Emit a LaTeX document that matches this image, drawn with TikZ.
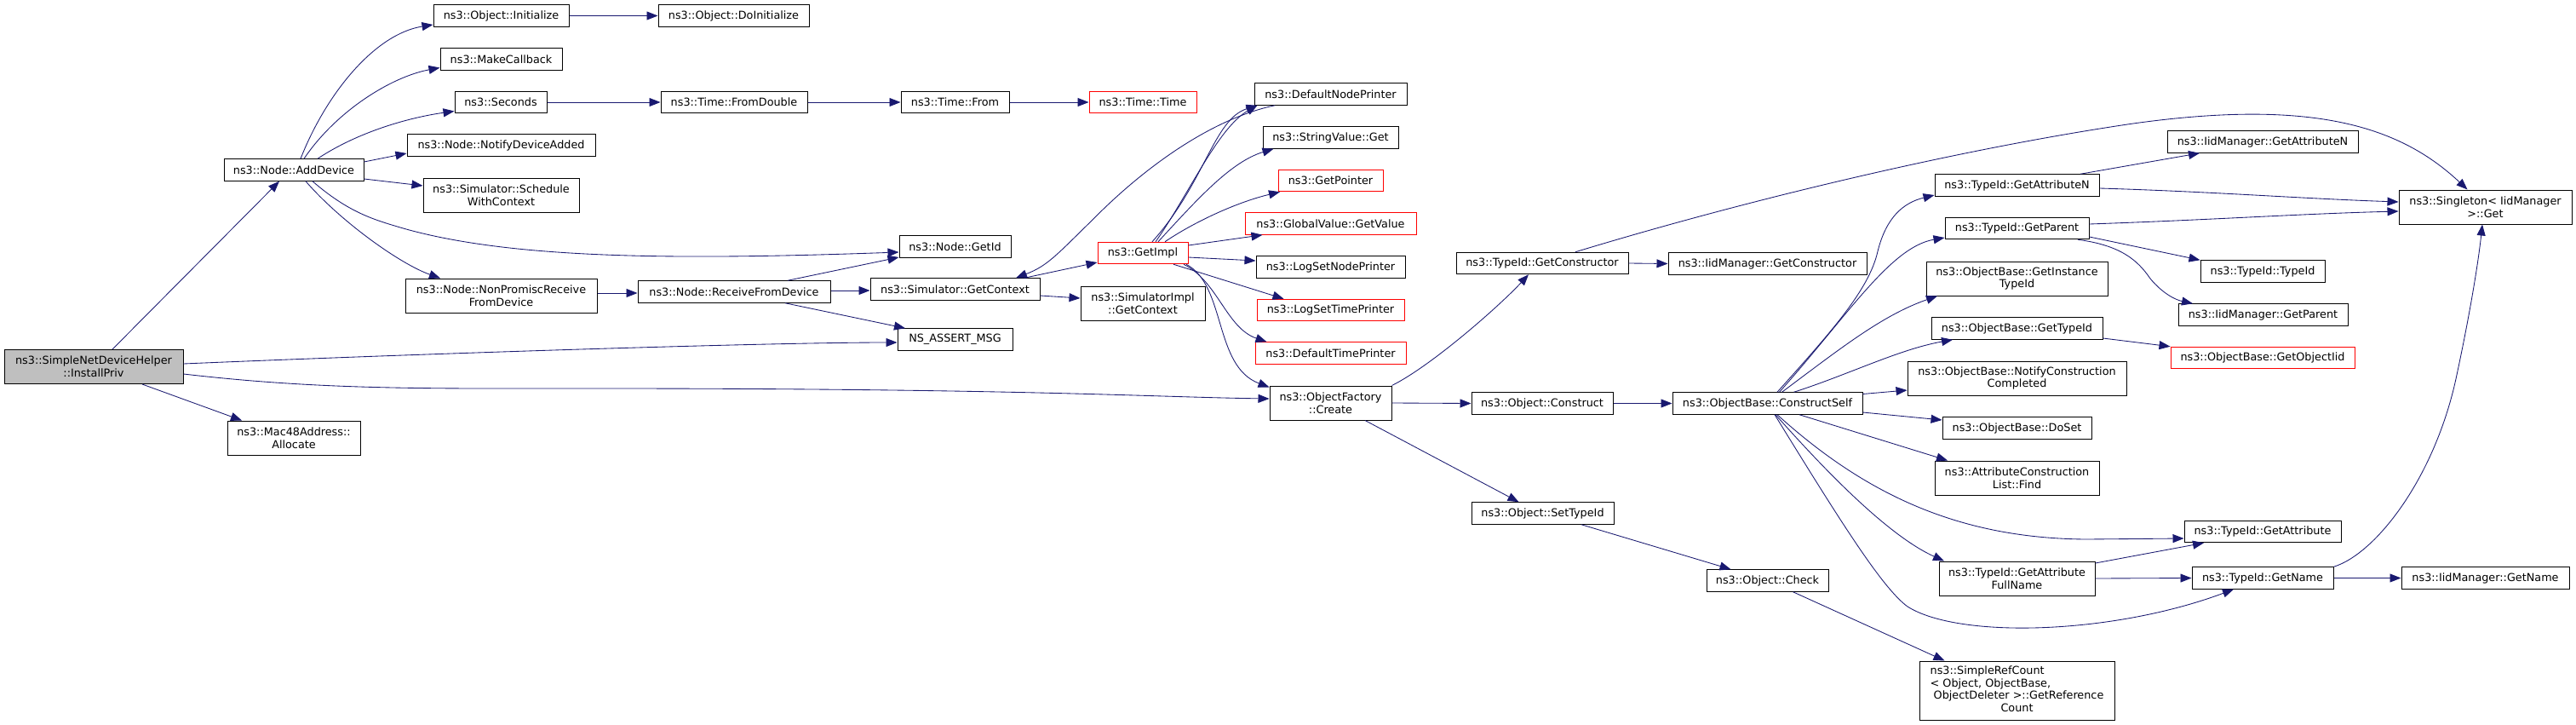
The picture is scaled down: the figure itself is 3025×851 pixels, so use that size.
\documentclass[tikz,border=0pt]{standalone}
\usepackage{fontspec}
\setmainfont{DejaVu Sans}
\usetikzlibrary{arrows.meta}
\definecolor{edgeblue}{HTML}{191970}
\definecolor{boxred}{HTML}{FF0000}
\definecolor{rootgray}{HTML}{BFBFBF}
\begin{document}
\begin{tikzpicture}[x=1pt,y=-1pt,
  fn/.style={draw=black, line width=1pt, fill=white, inner sep=0pt, minimum height=25.5pt, align=center, font=\fontsize{12.8pt}{14.7pt}\selectfont},
  fn2/.style={fn, minimum height=40pt},
  redfn/.style={fn, draw=boxred},
  call/.style={draw=edgeblue, line width=0.85pt, -{Triangle[length=13pt,width=10pt]}},
]
\useasboundingbox (0,0) rectangle (3025,851);

% nodes
\node[fn2, fill=rootgray, minimum width=210pt] (ip) at (110,430.5) {ns3::SimpleNetDeviceHelper\\::InstallPriv};
\node[fn2, minimum width=156pt] (mac) at (345,514) {ns3::Mac48Address::\\Allocate};
\node[fn, minimum width=164pt] (add) at (345,199.5) {ns3::Node::AddDevice};
\node[fn, minimum width=159pt] (init) at (588.5,18.5) {ns3::Object::Initialize};
\node[fn, minimum width=177pt] (doinit) at (861.5,18.5) {ns3::Object::DoInitialize};
\node[fn, minimum width=143pt] (mcb) at (588.5,69.5) {ns3::MakeCallback};
\node[fn, minimum width=108pt] (sec) at (588,120) {ns3::Seconds};
\node[fn, minimum width=172pt] (fd) at (862,120) {ns3::Time::FromDouble};
\node[fn, minimum width=221pt] (nda) at (588.5,170.5) {ns3::Node::NotifyDeviceAdded};
\node[fn2, minimum width=183pt] (swc) at (588.5,229) {ns3::Simulator::Schedule\\WithContext};
\node[fn2, minimum width=225pt] (npr) at (588.5,347) {ns3::Node::NonPromiscReceive\\FromDevice};
\node[fn, minimum width=226pt] (rfd) at (862,342.5) {ns3::Node::ReceiveFromDevice};
\node[fn, minimum width=127pt] (tfrom) at (1121.5,120) {ns3::Time::From};
\node[redfn, minimum width=126pt] (ttime) at (1342,120) {ns3::Time::Time};
\node[fn, minimum width=131pt] (gid) at (1121.5,289.5) {ns3::Node::GetId};
\node[fn, minimum width=199pt] (sgc) at (1121.5,339.5) {ns3::Simulator::GetContext};
\node[redfn, minimum width=106pt] (gimpl) at (1342,297) {ns3::GetImpl};
\node[fn2, minimum width=146pt] (sigc) at (1342,356) {ns3::SimulatorImpl\\::GetContext};
\node[fn, minimum width=135pt] (nsa) at (1121.5,398.5) {NS\_ASSERT\_MSG};
\node[fn, minimum width=179pt] (dnp) at (1562.5,110.5) {ns3::DefaultNodePrinter};
\node[fn, minimum width=159pt] (svg) at (1562.5,161.5) {ns3::StringValue::Get};
\node[redfn, minimum width=123pt] (gp) at (1562.5,212) {ns3::GetPointer};
\node[redfn, minimum width=201pt] (gvv) at (1562.5,262.5) {ns3::GlobalValue::GetValue};
\node[fn, minimum width=175pt] (lsnp) at (1562.5,313.5) {ns3::LogSetNodePrinter};
\node[redfn, minimum width=173pt] (lstp) at (1562.5,364) {ns3::LogSetTimePrinter};
\node[redfn, minimum width=177pt] (dtp) at (1562.5,414.5) {ns3::DefaultTimePrinter};
\node[fn2, minimum width=143pt] (ofc) at (1562.5,473) {ns3::ObjectFactory\\::Create};
\node[fn, minimum width=202pt] (tgc) at (1811,309) {ns3::TypeId::GetConstructor};
\node[fn, minimum width=166pt] (ocon) at (1811,473.5) {ns3::Object::Construct};
\node[fn, minimum width=167pt] (ost) at (1811.5,602.5) {ns3::Object::SetTypeId};
\node[fn, minimum width=233pt] (igc) at (2075.5,309.5) {ns3::IidManager::GetConstructor};
\node[fn, minimum width=223pt] (ocs) at (2075.5,473.5) {ns3::ObjectBase::ConstructSelf};
\node[fn, minimum width=143pt] (ochk) at (2075.5,681.5) {ns3::Object::Check};
\node[fn, minimum width=193pt] (tgan) at (2368.5,217.5) {ns3::TypeId::GetAttributeN};
\node[fn, minimum width=169pt] (tgp) at (2368.5,268) {ns3::TypeId::GetParent};
\node[fn2, minimum width=213pt] (ogit) at (2368.5,327) {ns3::ObjectBase::GetInstance\\TypeId};
\node[fn, minimum width=201pt] (ogt) at (2368.5,385.5) {ns3::ObjectBase::GetTypeId};
\node[fn2, minimum width=257pt] (oncc) at (2368.5,444) {ns3::ObjectBase::NotifyConstruction\\Completed};
\node[fn, minimum width=175pt] (ods) at (2368.5,502.5) {ns3::ObjectBase::DoSet};
\node[fn2, minimum width=193pt] (acf) at (2368.5,561) {ns3::AttributeConstruction\\List::Find};
\node[fn2, minimum width=183pt] (tgafn) at (2368.5,679) {ns3::TypeId::GetAttribute\\FullName};
\node[fn, minimum width=229pt, minimum height=69pt] (src) at (2368.5,810.5) {\begin{tabular}{@{}l@{}}ns3::SimpleRefCount\\< Object, ObjectBase,\\\ ObjectDeleter >::GetReference\\\multicolumn{1}{@{}c@{}}{Count}\end{tabular}};
\node[fn, minimum width=224pt] (igan) at (2657,166.5) {ns3::IidManager::GetAttributeN};
\node[fn2, minimum width=203pt] (sing) at (2918.5,243) {ns3::Singleton< IidManager\\>::Get};
\node[fn, minimum width=146pt] (tti) at (2657,318.5) {ns3::TypeId::TypeId};
\node[fn, minimum width=199pt] (igp) at (2657.5,369.5) {ns3::IidManager::GetParent};
\node[redfn, minimum width=216pt] (ogoi) at (2657,420) {ns3::ObjectBase::GetObjectIid};
\node[fn, minimum width=184pt] (tga) at (2657,624) {ns3::TypeId::GetAttribute};
\node[fn, minimum width=166pt] (tgn) at (2657,678.5) {ns3::TypeId::GetName};
\node[fn, minimum width=197pt] (ign) at (2918.5,678.5) {ns3::IidManager::GetName};

% edges
\draw[call] ([xshift=22pt]ip.north) -- ([xshift=-17pt]add.south);
\draw[call] ([yshift=3.5pt]ip.east) .. controls (500,415) and (900,402) .. ([yshift=-3.5pt]nsa.west);
\draw[call] ([yshift=-8.5pt]ip.east) .. controls (380,458) and (500,456) .. (700,456) .. controls (1200,456) and (1350,466) .. ([yshift=5pt]ofc.west);
\draw[call] ([xshift=57pt]ip.south) -- ([xshift=-61pt]mac.north);

\draw[call] ([xshift=8pt]add.north) .. controls (383,110) and (440,40) .. ([yshift=-10.5pt]init.west);
\draw[call] ([xshift=12pt]add.north) .. controls (395,130) and (460,90) .. ([yshift=-10pt]mcb.west);
\draw[call] ([xshift=28pt]add.north) .. controls (420,155) and (480,138) .. ([yshift=-10.5pt]sec.west);
\draw[call] ([yshift=9.5pt]add.east) -- ([yshift=-9.5pt]nda.west);
\draw[call] ([yshift=-10.5pt]add.east) -- ([yshift=11pt]swc.west);
\draw[call] ([xshift=22pt]add.south) .. controls (410,250) and (440,258) .. (470,267) .. controls (600,305) and (800,305) .. ([yshift=-6.5pt]gid.west);
\draw[call] ([xshift=14pt]add.south) .. controls (400,260) and (470,310) .. ([xshift=-71.5pt]npr.north);

\draw[call] (init.east) -- (doinit.west);
\draw[call] (sec.east) -- (fd.west);
\draw[call] (fd.east) -- (tfrom.west);
\draw[call] (tfrom.east) -- (ttime.west);

\draw[call] ([yshift=3pt]npr.east) -- ([yshift=-1.5pt]rfd.west);
\draw[call] ([xshift=63pt]rfd.north) -- ([yshift=-12.5pt]gid.west);
\draw[call] ([yshift=1.5pt]rfd.east) -- ([yshift=-1.5pt]sgc.west);
\draw[call] ([xshift=60pt]rfd.south) -- ([xshift=-58.5pt]nsa.north);

\draw[call] ([xshift=81.5pt]sgc.north) -- ([yshift=-11pt]gimpl.west);
\draw[call] ([yshift=-7.5pt]sgc.east) -- ([yshift=6pt]sigc.west);
\draw[call] ([xshift=-65.5pt]dnp.south) .. controls (1420,140) and (1340,200) .. (1283,258) .. controls (1240,300) and (1230,312) .. ([xshift=71.5pt]sgc.north);

\draw[call] ([xshift=11pt]gimpl.north) .. controls (1415,215) and (1425,140) .. ([xshift=4pt]dnp.south west);
\draw[call] ([xshift=15pt]gimpl.north) .. controls (1395,230) and (1430,150) .. ([xshift=4pt]dnp.south west);
\draw[call] ([xshift=18pt]gimpl.north) .. controls (1405,235) and (1445,190) .. ([xshift=-67pt]svg.south);
\draw[call] ([xshift=26pt]gimpl.north) .. controls (1400,262) and (1450,238) .. ([xshift=-59.5pt]gp.south);
\draw[call] ([yshift=9pt]gimpl.east) -- ([xshift=-80pt]gvv.south);
\draw[call] ([yshift=-5pt]gimpl.east) -- ([yshift=7.5pt]lsnp.west);
\draw[call] ([xshift=36pt]gimpl.south) -- ([xshift=-55pt]lstp.north);
\draw[call] ([xshift=48pt]gimpl.south) .. controls (1430,330) and (1440,385) .. ([xshift=-75pt]dtp.north);
\draw[call] ([xshift=51pt]gimpl.south) .. controls (1440,335) and (1425,430) .. ([yshift=-2pt]ofc.north west);

\draw[call] (ofc.north east) .. controls (1680,430) and (1760,360) .. ([xshift=-16pt]tgc.south);
\draw[call] (ofc.east) -- (ocon.west);
\draw[call] ([xshift=40.5pt]ofc.south) -- ([xshift=-28pt]ost.north);
\draw[call] (ocon.east) -- (ocs.west);
\draw[call] ([xshift=45.5pt]ost.south) -- ([xshift=-43pt]ochk.north);
\draw[call] ([xshift=30pt]ochk.south) -- ([xshift=-85pt]src.north);
\draw[call] (tgc.east) -- (igc.west);
\draw[call] ([xshift=39pt]tgc.north) .. controls (2050,235) and (2300,175) .. (2505,145) .. controls (2720,115) and (2820,150) .. ([xshift=-21pt]sing.north);

\draw[call] ([xshift=11.5pt]ocs.north) .. controls (2150,390) and (2195,340) .. (2205,295) .. controls (2215,255) and (2235,238) .. ([yshift=-11.5pt]tgan.west);
\draw[call] ([xshift=14pt]ocs.north) .. controls (2170,370) and (2220,290) .. ([yshift=-11pt]tgp.west);
\draw[call] ([xshift=17pt]ocs.north) .. controls (2160,410) and (2210,370) .. ([xshift=-93.5pt]ogit.south);
\draw[call] ([xshift=31pt]ocs.north) .. controls (2170,440) and (2230,410) .. ([xshift=-75.5pt]ogt.south);
\draw[call] ([yshift=11pt]ocs.east) -- ([yshift=-14pt]oncc.west);
\draw[call] ([yshift=-10.5pt]ocs.east) -- ([yshift=9.5pt]ods.west);
\draw[call] ([xshift=37.5pt]ocs.south) -- ([xshift=-81.5pt]acf.north);
\draw[call] ([xshift=11.5pt]ocs.south) .. controls (2190,580) and (2300,632) .. (2450,633) -- ([yshift=-8pt]tga.west);
\draw[call] ([xshift=9.5pt]ocs.south) .. controls (2150,560) and (2220,630) .. ([xshift=-85.5pt]tgafn.north);
\draw[call] ([xshift=8.5pt]ocs.south) .. controls (2160,610) and (2210,690) .. (2240,712) .. controls (2300,750) and (2480,745) .. ([xshift=-34pt]tgn.south);

\draw[call] ([xshift=74.5pt]tgan.north) -- ([xshift=-74pt]igan.south);
\draw[call] ([yshift=-3.5pt]tgan.east) .. controls (2600,225) and (2700,233) .. ([yshift=6pt]sing.west);
\draw[call] ([yshift=5pt]tgp.east) .. controls (2600,258) and (2700,251) .. ([yshift=-5pt]sing.west);
\draw[call] ([yshift=-10pt]tgp.east) -- (tti.north west);
\draw[call] ([xshift=71.5pt]tgp.south) .. controls (2490,288) and (2510,305) .. (2525,327) .. controls (2540,345) and (2555,352) .. ([xshift=-82.5pt]igp.north);
\draw[call] ([yshift=-11.5pt]ogt.east) -- (ogoi.north west);
\draw[call] ([yshift=18pt]tgafn.east) -- ([xshift=-69pt]tga.south);
\draw[call] (tgafn.east) -- (tgn.west);
\draw[call] (tgn.east) -- (ign.west);
\draw[call] (tgn.north east) .. controls (2790,650) and (2860,560) .. (2885,440) .. controls (2900,370) and (2910,310) .. ([xshift=-3.5pt]sing.south);
\end{tikzpicture}
\end{document}
